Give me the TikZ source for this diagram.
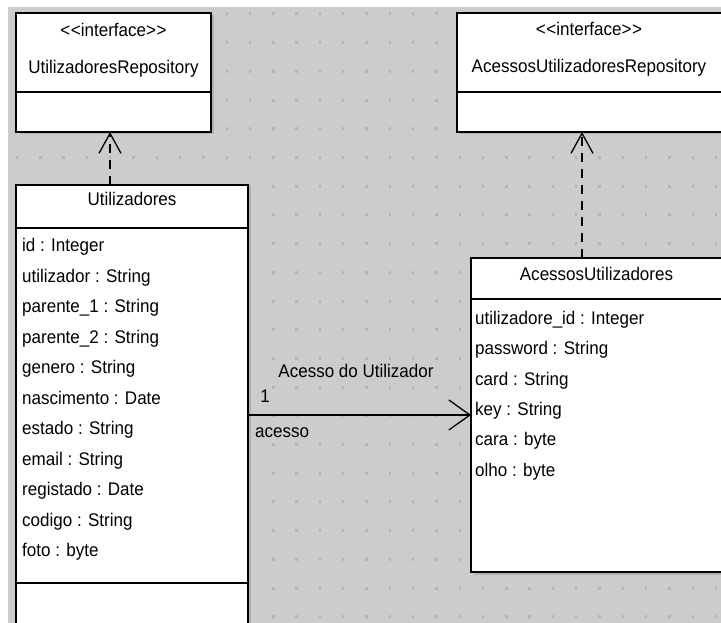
\documentclass[tikz,border=0pt]{standalone}
\usepackage{fontspec}
\setmainfont[FakeStretch=0.93]{Liberation Sans}
\usetikzlibrary{arrows.meta}
\definecolor{bgc}{RGB}{204,204,204}
\definecolor{dotc}{RGB}{180,180,180}
\definecolor{shc}{RGB}{178,178,178}
\begin{document}
\begin{tikzpicture}[x=1pt,y=-1pt,
  box/.style={draw=black, fill=white, line width=1.6pt, inner sep=0pt, outer sep=0pt, anchor=north west},
  divl/.style={draw=black, line width=1.6pt},
  shad/.style={fill=shc},
  txt/.style={inner sep=0pt, anchor=base, font=\fontsize{18.3}{21}\selectfont},
  attr/.style={txt, anchor=base west},
  dep/.style={line width=1.6pt, dash pattern=on 9pt off 7pt, -{Straight Barb[length=20pt,width=22pt,line width=1.3pt]}},
  assoc/.style={line width=1.6pt, -{Straight Barb[length=21pt,width=30pt,line width=1.3pt]}}]
\useasboundingbox (0,0) rectangle (721,623);
\clip (0,0) rectangle (721,623);
\fill[white] (0,0) rectangle (721,623);
\fill[bgc] (8,7) rectangle (721,623);
\foreach \i in {0,...,30}{\foreach \j in {0,...,21}{\fill[dotc] ({15.8+23.3*\i},{12.5+28.7*\j}) rectangle ++(2.4,3);}}

% UtilizadoresRepository
\fill[shad] (18.5,15.5) rectangle (213.5,134.5);
\node[box, minimum width=195pt, minimum height=119pt] (r1) at (16,13) {};
\draw[divl] (16,92) -- (211,92);
\node[txt] (r1s) at (113.5,37) {<\kern0.6pt<interface>\kern0.6pt>};
\node[txt] (r1n) at (113.5,74) {UtilizadoresRepository};

% AcessosUtilizadoresRepository
\fill[shad] (459.5,15.5) rectangle (730,134.5);
\node[box, minimum width=270pt, minimum height=119pt] (r2) at (457,13) {};
\draw[divl] (457,92) -- (727,92);
\node[txt] (r2s) at (589,36) {<\kern0.6pt<interface>\kern0.6pt>};
\node[txt] (r2n) at (589,73) {AcessosUtilizadoresRepository};

% Utilizadores
\fill[shad] (18.5,187.5) rectangle (250.5,650);
\node[box, minimum width=232pt, minimum height=460pt] (u) at (16,185) {};
\draw[divl] (16,228) -- (248,228);
\draw[divl] (16,583) -- (248,583);
\node[txt] (ut) at (132,206) {Utilizadores};
\foreach \t [count=\k from 0] in {id : Integer, utilizador : String, parente\_1 : String, parente\_2 : String, genero : String, nascimento : Date, estado : String, email : String, registado : Date, codigo : String, foto : byte}
  {\node[attr] (ua\k) at (22,{251.5+30.5*\k}) {\t};}

% AcessosUtilizadores
\fill[shad] (473.5,260.5) rectangle (734,574.5);
\node[box, minimum width=260pt, minimum height=314pt] (a) at (471,258) {};
\draw[divl] (471,299) -- (731,299);
\node[txt] (at) at (596.5,280) {AcessosUtilizadores};
\foreach \t [count=\k from 0] in {utilizadore\_id : Integer, password : String, card : String, key : String, cara : byte, olho : byte}
  {\node[attr] (aa\k) at (475,{324.5+30.3*\k}) {\t};}

% connectors
\coordinate (k1) at (110,0);
\draw[dep] (k1 |- u.north) -- (k1 |- r1.south);
\coordinate (k2) at (582,0);
\draw[dep] (k2 |- a.north) -- (k2 |- r2.south);
\coordinate (k3) at (0,415);
\draw[assoc] (k3 -| u.east) -- (k3 -| a.west);

\node[txt] (l1) at (356,377) {Acesso do Utilizador};
\node[txt] (l2) at (265,402) {1};
\node[attr] (l3) at (255,437) {acesso};
\end{tikzpicture}
\end{document}
